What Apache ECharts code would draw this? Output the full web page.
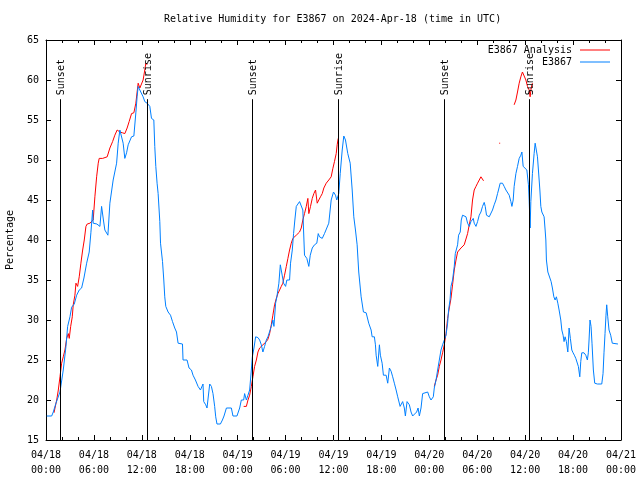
<!DOCTYPE html>
<html>
<head>
<meta charset="utf-8">
<script src="https://cdn.jsdelivr.net/npm/echarts@6/dist/echarts.min.js"></script>
<style>html,body{margin:0;padding:0;background:#fff}#c{width:640px;height:480px}</style>
</head>
<body>
<div id="c"></div>
<script>
// ---- data (hours since 2024-04-18 00:00 UTC) ----
const tickLabels = ["04/18\n00:00","04/18\n06:00","04/18\n12:00","04/18\n18:00","04/19\n00:00","04/19\n06:00","04/19\n12:00","04/19\n18:00","04/20\n00:00","04/20\n06:00","04/20\n12:00","04/20\n18:00","04/21\n00:00"];

const blueHours = [0.09,0.71,0.91,1.25,1.75,2.16,2.5,2.71,3.0,3.21,3.54,3.84,4.16,4.46,4.75,5.09,5.41,5.62,5.84,5.91,6.37,6.75,6.96,7.19,7.37,7.75,8.0,8.41,8.84,9.04,9.25,9.46,9.66,9.87,10.09,10.29,10.5,10.71,11.0,11.25,11.41,11.54,11.75,11.96,12.16,12.37,12.66,13.0,13.21,13.5,13.62,13.75,13.91,14.04,14.25,14.34,14.59,14.75,14.87,15.0,15.29,15.59,15.84,16.12,16.34,16.54,17.09,17.16,17.66,17.91,18.21,18.41,18.71,19.04,19.34,19.46,19.66,19.75,20.0,20.16,20.5,20.71,20.91,21.12,21.25,21.41,21.84,22.09,22.29,22.59,23.21,23.41,23.91,24.25,24.46,24.75,24.87,25.09,25.29,25.5,25.71,25.84,26.04,26.25,26.54,26.75,26.96,27.16,27.37,27.59,27.79,28.0,28.21,28.41,28.54,28.75,28.91,29.16,29.34,29.59,29.75,30.0,30.16,30.5,30.62,30.84,31.0,31.16,31.34,31.75,31.96,32.16,32.25,32.37,32.66,32.91,33.09,33.34,33.62,33.91,34.09,34.25,34.59,34.87,35.16,35.41,35.71,36.0,36.25,36.41,36.66,36.84,37.09,37.29,37.5,37.79,38.09,38.34,38.54,38.75,38.96,39.16,39.46,39.75,40.09,40.41,40.71,40.84,41.12,41.25,41.34,41.54,41.75,41.87,42.09,42.25,42.59,42.79,43.0,43.21,43.41,43.62,43.84,44.04,44.34,44.66,44.87,45.0,45.21,45.5,45.71,45.91,46.16,46.41,46.59,46.75,46.96,47.16,47.37,47.79,48.0,48.21,48.5,48.62,48.84,49.04,49.25,49.46,49.66,49.87,50.09,50.29,50.41,50.59,50.71,50.91,51.12,51.25,51.54,51.66,51.87,52.0,52.16,52.59,52.79,53.0,53.21,53.5,53.62,53.84,54.04,54.25,54.46,54.66,54.87,55.0,55.16,55.5,55.71,55.91,56.12,56.34,56.54,56.66,56.87,57.16,57.37,57.59,57.79,58.0,58.21,58.34,58.5,58.62,58.84,59.04,59.25,59.46,59.59,59.75,60.0,60.21,60.41,60.5,60.62,60.71,60.91,61.12,61.25,61.41,61.54,61.66,61.84,61.96,62.09,62.25,62.37,62.5,62.59,62.66,62.84,63.09,63.25,63.41,63.59,63.75,63.91,64.09,64.25,64.46,64.59,64.75,64.87,65.0,65.16,65.34,65.5,65.66,65.84,66.0,66.16,66.34,66.5,66.66,66.84,66.96,67.09,67.37,67.59,67.79,67.91,68.0,68.12,68.25,68.37,68.54,68.71,69.04,69.59,69.75,69.87,70.0,70.12,70.21,70.34,70.5,70.71,70.91,71.12,71.62];
const blueValues = [18,18,18.5,19.6,21,23.75,26.7,29.2,30.4,31.6,32,33.1,33.75,34,35.25,37.1,38.5,40.9,43.75,42.1,42,41.7,44.2,42.5,41.25,40.6,44.6,47.5,49.6,52.1,53.75,53.5,52.1,50.2,50.9,51.9,52.1,52.9,53,55.9,57.9,59.2,58.75,59,57.9,57.3,57.1,56.7,55.2,55,51.7,49.2,47.1,45.8,42.3,39.6,37.3,35,32.9,31.7,31,30.6,29.8,29,28.5,27.1,27,25,25,24,23.75,23.1,22.5,21.7,21.25,21,22,19.8,19.4,19,22,21.7,20.8,19.2,17.9,17,17,17.5,18,19,19,18,18,19,20,20,20.8,20,20.6,21.25,23.75,25.4,26.5,27.9,27.8,27.5,26.9,26,26.7,27.5,27.9,27.9,29.2,30,29.2,32.1,32.9,34.6,36.9,37,34.6,34.2,35,35,37.1,38.75,40.8,42.5,44.2,44.8,44.6,43.75,41.25,38.1,37.7,36.7,38.1,39,39.4,39.6,40.8,40.4,40.2,40.8,41.5,42.1,45,46,45.6,45,45.8,48.3,51.25,53,52.5,50.8,49.6,46.25,42.9,41.25,39.4,36,32.9,31,30.9,29.6,28.75,27.9,27.9,26.9,25.6,24.2,26.9,25.6,24.6,23.1,23.1,22.1,24,23.6,22.9,22.1,21.25,20.4,19.2,19.8,19,18,19.8,19.4,18.5,18,18,18.5,19,18,19,20.8,21,21,20.4,20,20.4,21.5,22.5,23.75,25,26.25,26.9,27.1,28.1,29.6,31.25,32.5,34.2,35,36.7,38.3,39.4,40.6,41,42.5,43.1,42.9,42.1,41.7,42.3,42.7,42.1,41.7,42.3,43.1,43.5,44.2,44.7,44.2,43.1,42.9,43.1,43.75,44.4,45,45.8,46.25,47.1,47.1,46.7,46.25,46.4,45.6,44.8,44.2,45,46.7,48.3,49.2,50.2,50.6,51,49.2,49,48.75,46.9,45,41.5,44.8,48.3,50.8,52.1,51.9,50.4,48.75,46.25,44.2,43.5,43.75,42.9,41.25,40,37.5,36,35.9,34.8,34,32.9,32.5,32.9,32.1,31.25,30,28.75,28.1,27.3,27.9,27.3,26,29,27.7,26.25,25.9,25.6,25.2,25,24.2,22.9,24.8,25.9,25.9,25.6,25,25.9,27.5,30,29.2,27.1,23.75,22.1,22,22,23.3,25.9,28.3,30.6,31.9,30.4,28.75,28.1,27.1,27,27];

// null value = gap in the analysis series
const redHours = [1.0,1.34,1.54,1.75,1.96,2.16,2.37,2.59,2.79,2.91,3.09,3.29,3.41,3.62,3.75,3.96,4.16,4.37,4.59,4.79,5.0,5.16,5.5,5.91,6.12,6.34,6.54,6.66,7.09,7.66,8.0,8.34,8.62,8.91,9.25,9.59,9.87,10.16,10.41,10.71,11.0,11.25,11.41,11.54,11.75,11.96,12.16,12.37,12.5,12.66,
  18.0,
  24.75,25.09,25.29,25.5,25.71,25.91,26.12,26.34,26.54,26.75,26.96,27.16,27.37,27.59,27.79,28.0,28.21,28.41,28.62,28.84,29.04,29.25,29.46,29.66,29.87,30.09,30.29,30.5,30.71,30.91,31.34,31.75,31.96,32.16,32.37,32.59,32.79,32.91,33.12,33.34,33.54,33.75,33.96,34.16,34.37,34.59,34.79,35.09,35.41,35.71,35.91,36.12,36.34,36.46,36.59,
  42.0,
  48.62,48.84,49.04,49.25,49.46,49.66,49.87,50.09,50.29,50.5,50.71,50.91,51.12,51.34,51.54,51.75,51.96,52.16,52.37,52.59,52.79,53.0,53.21,53.41,53.62,53.84,54.04,54.25,54.46,54.66,54.79,
  55.5,
  56.75,56.87,
  57.5,
  58.62,58.84,59.04,59.25,59.46,59.66,59.87,60.09,60.29,60.5,60.62,60.75,60.91];
const redValues = [18.4,20,21.25,22.9,24.6,25.4,26.25,27.7,28.3,27.7,29.2,30.4,31.9,33.1,34.6,34.2,35.4,37.1,38.75,40,41.7,42,42.1,42.5,45.4,47.9,49.6,50.2,50.2,50.4,51.5,52.3,53.1,53.75,53.5,53.4,53.3,54,54.8,55.8,55.9,57.1,58.5,59.6,59,59.1,60,61.25,62.1,61.9,
  null,
  19.2,19.2,20,20.6,21.7,22.9,24.2,25,26,26.5,26.7,26.9,27,27.3,27.6,28.3,29.4,30.6,31.9,32.7,33.3,33.75,34.2,34.6,35.6,36.7,37.7,38.75,39.6,40.2,40.6,41,41.5,42.5,43.3,44.2,45.2,43.3,44.2,45.2,45.8,46.25,44.6,45,45.4,45.8,46.5,47.1,47.5,47.9,48.9,49.8,50.8,51.9,52.7,
  null,
  21.7,22.5,23.1,24.2,25,25.9,26.9,28.3,30.2,31.5,32.7,34.4,36.25,37.5,38.5,38.75,39,39.2,39.4,39.6,40.8,41.9,42.9,45,46.25,46.7,47.1,47.5,47.9,48.1,47.4,
  null,
  52.1,52.1,
  null,
  56.9,57.5,58.5,59.6,60.4,61,60.8,60,59.2,58.75,57.9,59,59.6];

const sunHours = [1.79, 12.67, 25.79, 36.54, 49.79, 60.54];
const sunLabels = ["Sunset", "Sunrise", "Sunset", "Sunrise", "Sunset", "Sunrise"];

const titleText = "Relative Humidity for E3867 on 2024-Apr-18 (time in UTC)";
const seriesNames = ["E3867 Analysis", "E3867"];
const yName = "Percentage";

// ---- chart ----
const FONT = "DejaVu Sans Mono";
const Y_MIN = 15, Y_MAX = 65, SUN_TOP = 57.6;
const zip = (xs, ys) => xs.map((x, i) => [x, ys[i]]);
// plain line legend icon (bounding box 30x12, 1px bar in the middle)
const LINE_ICON = 'path://M0,0h30v0.01h-30z M0,5.5h30v1h-30z M0,11.99h30v0.01h-30z';

const chart = echarts.init(document.getElementById('c'), null, {renderer: 'canvas'});
const axisLine = {show: true, onZero: false, lineStyle: {color: '#000', width: 1}};

chart.setOption({
  animation: false,
  backgroundColor: '#fff',
  textStyle: {fontFamily: FONT, fontSize: 10, color: '#000'},
  title: {
    text: titleText, left: 164, top: 14, padding: 0,
    textStyle: {fontFamily: FONT, fontSize: 10, fontWeight: 'normal', color: '#000'}
  },
  legend: {
    orient: 'vertical', right: 30, top: 44, padding: 0, itemGap: 0,
    align: 'right', itemWidth: 30, itemHeight: 12,
    textStyle: {fontFamily: FONT, fontSize: 10, color: '#000', lineHeight: 12, padding: [0, 3, 0, 0]},
    data: seriesNames.map(n => ({name: n, icon: LINE_ICON}))
  },
  grid: {left: 46, right: 19, top: 40, bottom: 40, containLabel: false, outerBoundsMode: 'none'},
  xAxis: [{
    type: 'value', min: 0, max: 72, interval: 6, position: 'bottom',
    axisLine: axisLine,
    axisTick: {show: true, inside: true, length: 5, lineStyle: {color: '#000'}},
    minorTick: {show: true, splitNumber: 3, length: 3, lineStyle: {color: '#000'}},
    splitLine: {show: false},
    axisLabel: {margin: 8, lineHeight: 15, color: '#000', fontFamily: FONT, fontSize: 10,
      formatter: v => tickLabels[Math.round(v / 6)]}
  }, {
    type: 'value', min: 0, max: 72, interval: 6, position: 'top',
    axisLine: axisLine,
    axisTick: {show: true, inside: true, length: 5, lineStyle: {color: '#000'}},
    minorTick: {show: true, splitNumber: 3, length: 3, lineStyle: {color: '#000'}},
    splitLine: {show: false}, axisLabel: {show: false}
  }],
  yAxis: [{
    type: 'value', min: Y_MIN, max: Y_MAX, interval: 5, position: 'left',
    name: yName, nameLocation: 'middle', nameGap: 31,
    nameTextStyle: {fontFamily: FONT, fontSize: 10, color: '#000'},
    axisLine: axisLine,
    axisTick: {show: true, inside: true, length: 5, lineStyle: {color: '#000'}},
    splitLine: {show: false},
    axisLabel: {margin: 7, color: '#000', fontFamily: FONT, fontSize: 10}
  }, {
    type: 'value', min: Y_MIN, max: Y_MAX, interval: 5, position: 'right',
    axisLine: axisLine,
    axisTick: {show: true, inside: true, length: 5, lineStyle: {color: '#000'}},
    splitLine: {show: false}, axisLabel: {show: false}
  }],
  series: [{
    name: seriesNames[0], type: 'line', data: zip(redHours, redValues),
    showSymbol: false, symbol: 'none', connectNulls: false,
    lineStyle: {color: '#ff0000', width: 1}, itemStyle: {color: '#ff0000'}, z: 3
  }, {
    name: seriesNames[1], type: 'line', data: zip(blueHours, blueValues),
    showSymbol: false, symbol: 'none',
    lineStyle: {color: '#0080ff', width: 1}, itemStyle: {color: '#0080ff'}, z: 4
  }, {
    name: 'sun', type: 'custom', z: 5,
    data: sunHours.map((h, i) => [h, SUN_TOP, sunLabels[i]]),
    renderItem: (params, api) => {
      const h = api.value(0);
      const top = api.coord([h, SUN_TOP]);
      const bot = api.coord([h, Y_MIN]);
      const x = Math.round(top[0]) + 0.5;
      return {
        type: 'group',
        children: [{
          type: 'line',
          shape: {x1: x, y1: top[1], x2: x, y2: bot[1]},
          style: {stroke: '#000', lineWidth: 1}
        }, {
          type: 'text', x: x + 1, y: top[1] - 4, rotation: Math.PI / 2,
          style: {text: sunLabels[params.dataIndex], fill: '#000', fontFamily: FONT, fontSize: 10,
                  align: 'left', verticalAlign: 'middle'}
        }]
      };
    }
  }]
});
</script>
</body>
</html>
